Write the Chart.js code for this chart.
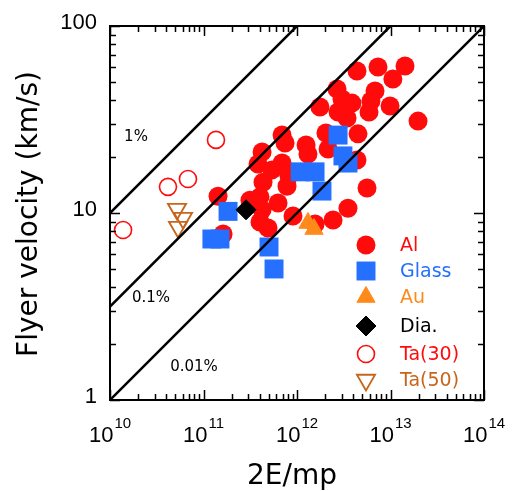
<!DOCTYPE html>
<html>
<head>
<meta charset="utf-8">
<script src="https://cdn.jsdelivr.net/npm/chart.js@4.4.1/dist/chart.umd.min.js"></script>
<style>
  html, body { margin: 0; padding: 0; background: #fff; }
</style>
</head>
<body>
<canvas id="c" width="512" height="491"></canvas>
<script>
// Flyer velocity vs 2E/mp, log-log, with efficiency lines.

// --- Data ---
const alX = [4.38e12, 7.35e12, 1.43e13, 1.06e13, 2.68e12, 6.83e12, 3.03e12, 3.87e12, 6.18e12, 1.76e12,
             9.89e12, 2.75e12, 5.89e12, 3.43e12, 1.97e13, 2.04e12, 4.49e12, 1.25e12, 2.15e12, 1.31e12,
             4.38e12, 5.61e12, 3.51e12, 2.43e12, 1.56e12, 9.06e11, 6.92e11, 7.45e11, 4.23e11, 3.83e11,
             6.92e11, 5.41e11, 4.33e11, 7.82e11, 3.14e11, 4.02e11, 6.27e11, 4.02e11, 4.90e11, 1.43e11,
             1.62e11, 4.23e11, 8.2e11];
const alY = [57.4, 60.4, 61.1, 52.1, 46.0, 44.9, 40.7, 38.7, 39.7, 36.9,
             37.3, 34.7, 34.7, 32.2, 31.0, 26.8, 26.5, 23.1, 22.0, 20.7,
             19.2, 13.6, 10.6, 9.18, 8.73, 9.64, 26.1, 23.7, 21.2, 18.3,
             18.5, 17.0, 14.6, 13.9, 11.7, 12.2, 11.3, 8.95, 8.32, 12.3,
             7.72, 10.4, 15.8];

const glassX = [1.83e11, 1.23e11, 1.50e11, 5.02e11, 5.68e11, 2.75e12, 3.10e12, 3.51e12, 1.08e12, 1.56e12, 1.85e12];
const glassY = [10.2, 7.26, 7.26, 6.58, 5.02, 26.1, 20.2, 18.5, 16.6, 16.6, 13.1];

const auX = [1.31e12, 1.52e12];
const auY = [8.84, 8.21];

const diaX = [2.85e11];
const diaY = [10.4];

const ta30X = [1.38e10, 4.17e10, 6.82e10, 1.36e11];
const ta30Y = [8.11, 13.8, 15.2, 24.6];

const ta50X = [5.21e10, 6.04e10, 5.34e10];
const ta50Y = [10.5, 9.40, 8.41];

// efficiency lines (endpoints)
const effLabels = ["1%", "0.1%", "0.01%"];
const effX = [[1e10, 1e12], [1e10, 1e13], [1e10, 1e14]];
const effY = [[10, 100], [3.162, 100], [1, 100]];

const yTickVals = [1, 10, 100];
const xTickExps = [10, 11, 12, 13, 14];

const legendNames = ["Al", "Glass", "Au", "Dia.", "Ta(30)", "Ta(50)"];

// --- Styles ---
const RED = "#ff0b0b";
const BLUE = "#2670ff";
const ORANGE = "#ff8a1c";
const BROWN = "#c7651c";

function pts(xs, ys) {
  return xs.map((x, i) => ({ x: x, y: ys[i] }));
}

const series = [
  { name: "Ta(50)", data: pts(ta50X, ta50Y), style: "triangle", rot: 180, r: 10.5, fill: "rgba(0,0,0,0)", stroke: BROWN, bw: 1.8, text: BROWN },
  { name: "Ta(30)", data: pts(ta30X, ta30Y), style: "circle", rot: 0, r: 8.5, fill: "rgba(0,0,0,0)", stroke: RED, bw: 1.6, text: RED },
  { name: "Dia.", data: pts(diaX, diaY), style: "rectRot", rot: 0, r: 10, fill: "#000", stroke: "#000", bw: 1, text: "#000" },
  { name: "Au", data: pts(auX, auY), style: "triangle", rot: 0, r: 10.5, fill: ORANGE, stroke: ORANGE, bw: 1, text: ORANGE },
  { name: "Glass", data: pts(glassX, glassY), style: "rect", rot: 0, r: 13.4, fill: BLUE, stroke: BLUE, bw: 0, text: BLUE },
  { name: "Al", data: pts(alX, alY), style: "circle", rot: 0, r: 9.5, fill: RED, stroke: RED, bw: 0, text: RED },
];

const datasets = [];
effX.forEach((xs, i) => {
  datasets.push({
    type: "line",
    label: effLabels[i],
    data: pts(xs, effY[i]),
    borderColor: "#000",
    borderWidth: 2.5,
    pointRadius: 0,
    fill: false,
    tension: 0,
  });
});
series.forEach((s) => {
  datasets.push({
    label: s.name,
    data: s.data,
    pointStyle: s.style,
    rotation: s.rot,
    pointRadius: s.r,
    pointHoverRadius: s.r,
    backgroundColor: s.fill,
    borderColor: s.stroke,
    borderWidth: s.bw,
  });
});

// --- Marker drawing for the legend ---
function marker(ctx, s, x, y) {
  ctx.save();
  ctx.fillStyle = s.fill;
  ctx.strokeStyle = s.stroke;
  ctx.lineWidth = s.bw;
  ctx.beginPath();
  const r = s.r;
  if (s.style === "circle") {
    ctx.arc(x, y, r, 0, Math.PI * 2);
  } else if (s.style === "rect") {
    const h = r * Math.SQRT1_2;
    ctx.rect(x - h, y - h, 2 * h, 2 * h);
  } else if (s.style === "rectRot") {
    ctx.moveTo(x, y - r); ctx.lineTo(x + r, y); ctx.lineTo(x, y + r); ctx.lineTo(x - r, y);
    ctx.closePath();
  } else if (s.style === "triangle") {
    const sgn = s.rot === 180 ? -1 : 1;
    for (let k = 0; k < 3; k++) {
      const a = k * 2 * Math.PI / 3;
      const px = x + Math.sin(a) * r * sgn;
      const py = y - Math.cos(a) * r * sgn;
      if (k === 0) ctx.moveTo(px, py); else ctx.lineTo(px, py);
    }
    ctx.closePath();
  }
  ctx.fill();
  if (s.bw > 0) ctx.stroke();
  ctx.restore();
}

// --- Frame, ticks, labels, legend ---
const decor = {
  id: "decor",
  afterDraw(chart) {
    const ctx = chart.ctx;
    const { left, right, top, bottom } = chart.chartArea;
    const xs = chart.scales.x, ys = chart.scales.y;
    ctx.save();

    // ticks (inward, all four sides)
    ctx.strokeStyle = "#000";
    ctx.lineWidth = 1.5;
    ctx.beginPath();
    for (let e = 10; e <= 14; e++) {
      for (let m = 1; m <= 9; m++) {
        if (e === 14 && m > 1) break;
        const px = Math.round(xs.getPixelForValue(m * Math.pow(10, e))) + 0.5;
        const len = m === 1 ? 10 : 6;
        ctx.moveTo(px, bottom); ctx.lineTo(px, bottom - len);
        ctx.moveTo(px, top); ctx.lineTo(px, top + len);
      }
    }
    for (let e = 0; e <= 2; e++) {
      for (let m = 1; m <= 9; m++) {
        if (e === 2 && m > 1) break;
        const py = Math.round(ys.getPixelForValue(m * Math.pow(10, e))) + 0.5;
        const len = m === 1 ? 10 : 6;
        ctx.moveTo(left, py); ctx.lineTo(left + len, py);
        ctx.moveTo(right, py); ctx.lineTo(right - len, py);
      }
    }
    ctx.stroke();

    // frame
    ctx.lineWidth = 2;
    ctx.strokeRect(left, top, right - left, bottom - top);

    // y tick labels
    ctx.fillStyle = "#000";
    ctx.font = "22px 'Liberation Sans', Arial, sans-serif";
    ctx.textAlign = "right";
    ctx.textBaseline = "middle";
    yTickVals.forEach((v) => {
      ctx.fillText(String(v), left - 13, ys.getPixelForValue(v) - 3);
    });

    // x tick labels 10^n
    ctx.textBaseline = "alphabetic";
    ctx.textAlign = "left";
    xTickExps.forEach((e) => {
      const px = xs.getPixelForValue(Math.pow(10, e));
      ctx.font = "22px 'Liberation Sans', Arial, sans-serif";
      const wb = ctx.measureText("10").width;
      ctx.font = "15px 'Liberation Sans', Arial, sans-serif";
      const we = ctx.measureText(String(e)).width;
      const x0 = px - (wb + we + 1) / 2;
      ctx.font = "22px 'Liberation Sans', Arial, sans-serif";
      ctx.fillText("10", x0, 442);
      ctx.font = "15px 'Liberation Sans', Arial, sans-serif";
      ctx.fillText(String(e), x0 + wb + 1, 428);
    });

    // axis titles
    ctx.font = "28px 'DejaVu Sans', sans-serif";
    ctx.textAlign = "center";
    ctx.fillText("2E/mp", 292, 484);
    ctx.save();
    ctx.translate(37, 214);
    ctx.rotate(-Math.PI / 2);
    ctx.fillText("Flyer velocity (km/s)", 0, 0);
    ctx.restore();

    // efficiency line labels
    ctx.font = "15px 'DejaVu Sans', sans-serif";
    ctx.textBaseline = "middle";
    const effPos = [[136, 137], [151, 298], [194, 367]];
    effLabels.forEach((t, i) => ctx.fillText(t, effPos[i][0], effPos[i][1]));

    // legend
    const order = ["Al", "Glass", "Au", "Dia.", "Ta(30)", "Ta(50)"];
    const rowsY = [245, 271, 297, 326, 354, 380];
    ctx.font = "19px 'DejaVu Sans', sans-serif";
    ctx.textAlign = "left";
    ctx.textBaseline = "middle";
    order.forEach((n, i) => {
      const s = series.find((q) => q.name === n);
      marker(ctx, s, 366, rowsY[i]);
      ctx.fillStyle = s.text;
      ctx.fillText(legendNames[i], 400, rowsY[i] + 1);
    });

    ctx.restore();
  },
};

new Chart(document.getElementById("c"), {
  type: "scatter",
  data: { datasets },
  options: {
    responsive: false,
    animation: false,
    events: [],
    layout: { padding: { left: 110, right: 28, top: 26, bottom: 91 } },
    scales: {
      x: { type: "logarithmic", min: 1e10, max: 1e14, display: false },
      y: { type: "logarithmic", min: 1, max: 100, display: false },
    },
    plugins: {
      legend: { display: false },
      tooltip: { enabled: false },
    },
  },
  plugins: [decor],
});
</script>
</body>
</html>
